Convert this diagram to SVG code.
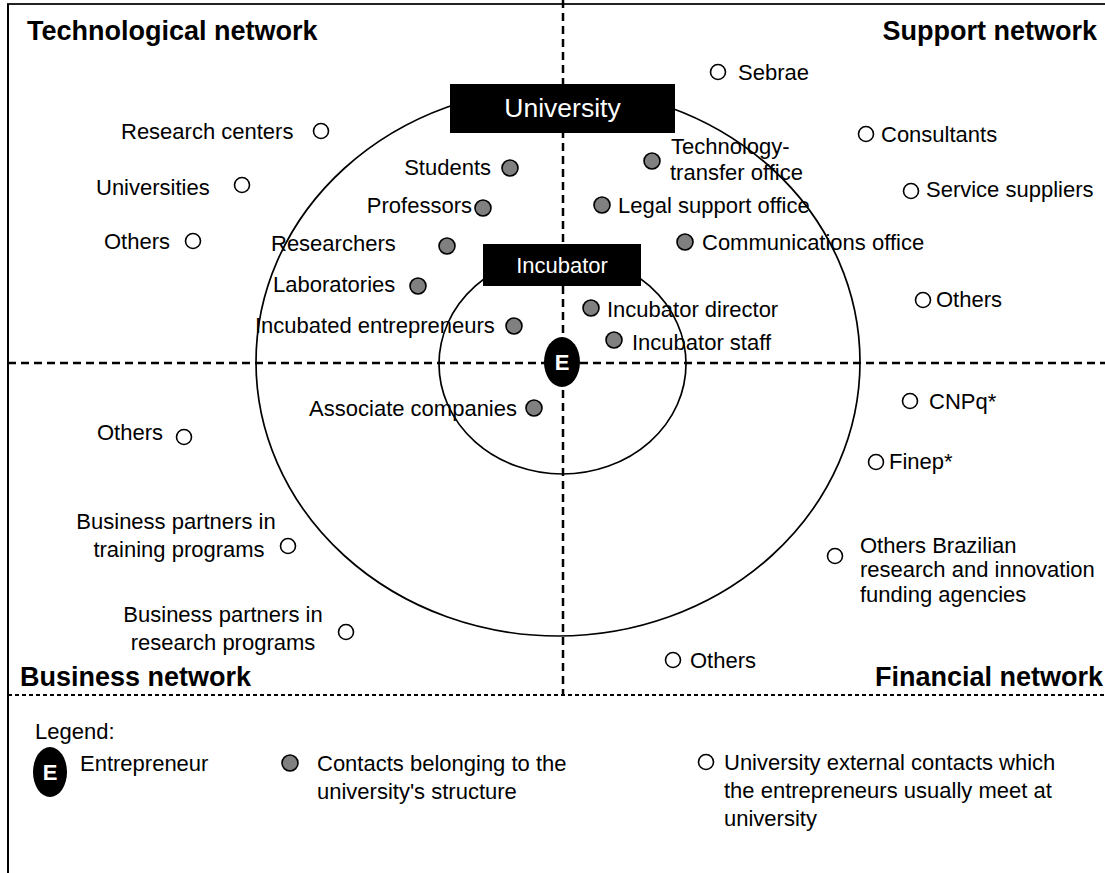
<svg xmlns="http://www.w3.org/2000/svg" width="1105" height="873" viewBox="0 0 1105 873">
  <style>
    text { font-family: "Liberation Sans", Arial, sans-serif; fill: #000; }
    .lbl { font-size: 22px; }
    .ttl { font-size: 27px; font-weight: bold; }
    .box { fill: #000; }
    .boxtxt { fill: #fff; text-anchor: middle; }
    .ring { fill: none; stroke: #000; stroke-width: 1.7; }
    .dash { fill: none; stroke: #000; stroke-width: 2.5; stroke-dasharray: 8 5; }
    .dashfine { fill: none; stroke: #000; stroke-width: 2; stroke-dasharray: 4 3; }
    .ext { fill: #fff; stroke: #000; stroke-width: 1.6; }
    .int { fill: #808080; stroke: #000; stroke-width: 1.6; }
    .ent { fill: #000; }
    .entE { fill: #fff; font-weight: bold; font-size: 22px; text-anchor: middle; }
  </style>

  <rect width="1105" height="873" fill="#fff"/>

  <!-- frame -->
  <g id="frame">
    <line x1="7" y1="4" x2="1105" y2="4" stroke="#222" stroke-width="2"/>
    <line x1="8" y1="4" x2="8" y2="873" stroke="#000" stroke-width="2"/>
  </g>

  <!-- rings around the entrepreneur -->
  <g id="rings">
    <ellipse class="ring" cx="558" cy="362" rx="302" ry="274"/>
    <ellipse class="ring" cx="562.5" cy="364" rx="123.5" ry="110"/>
  </g>

  <!-- quadrant dividers -->
  <g id="connectors">
    <line class="dash" x1="563" y1="0" x2="563" y2="695"/>
    <line class="dash" x1="8" y1="363" x2="1105" y2="363"/>
    <line class="dashfine" x1="8" y1="695" x2="1105" y2="695"/>
  </g>

  <!-- quadrant titles -->
  <g id="titles">
    <text class="ttl" x="27" y="40">Technological network</text>
    <text class="ttl" x="1097" y="40" text-anchor="end">Support network</text>
    <text class="ttl" x="20" y="686">Business network</text>
    <text class="ttl" x="1103" y="686" text-anchor="end">Financial network</text>
  </g>

  <g id="university">
    <rect class="box" x="450" y="84" width="225" height="49"/>
    <text class="boxtxt" x="562.5" y="117" font-size="26.5">University</text>
  </g>

  <g id="incubator">
    <rect class="box" x="483" y="244" width="158" height="42"/>
    <text class="boxtxt" x="562" y="273" font-size="22">Incubator</text>
  </g>

  <g id="entrepreneur">
    <ellipse class="ent" cx="562" cy="362" rx="18" ry="25"/>
    <text class="entE" x="562" y="370">E</text>
  </g>

  <!-- technological network -->
  <g id="research-centers"><circle class="ext" cx="321" cy="131" r="7.5"/><text class="lbl" x="121" y="139">Research centers</text></g>
  <g id="universities"><circle class="ext" cx="242" cy="185" r="7.5"/><text class="lbl" x="96" y="195">Universities</text></g>
  <g id="tech-others"><circle class="ext" cx="193" cy="241" r="7.5"/><text class="lbl" x="104" y="249">Others</text></g>
  <g id="students"><circle class="int" cx="510" cy="168" r="8"/><text class="lbl" x="491" y="175" text-anchor="end">Students</text></g>
  <g id="professors"><circle class="int" cx="483" cy="208" r="8"/><text class="lbl" x="472" y="213" text-anchor="end">Professors</text></g>
  <g id="researchers"><circle class="int" cx="447" cy="246" r="8"/><text class="lbl" x="271" y="251">Researchers</text></g>
  <g id="laboratories"><circle class="int" cx="418" cy="286" r="8"/><text class="lbl" x="273" y="292">Laboratories</text></g>
  <g id="incubated-entrepreneurs"><circle class="int" cx="514" cy="326" r="8"/><text class="lbl" x="255" y="333">Incubated entrepreneurs</text></g>

  <!-- support network -->
  <g id="sebrae"><circle class="ext" cx="718" cy="72" r="7.5"/><text class="lbl" x="738" y="80">Sebrae</text></g>
  <g id="tech-transfer"><circle class="int" cx="652" cy="161" r="8"/><text class="lbl" x="671" y="154">Technology-</text><text class="lbl" x="670" y="180">transfer office</text></g>
  <g id="consultants"><circle class="ext" cx="866" cy="134" r="7.5"/><text class="lbl" x="881" y="142">Consultants</text></g>
  <g id="service-suppliers"><circle class="ext" cx="911" cy="191" r="7.5"/><text class="lbl" x="926" y="197">Service suppliers</text></g>
  <g id="legal-support"><circle class="int" cx="602" cy="205" r="8"/><text class="lbl" x="618" y="213">Legal support office</text></g>
  <g id="communications"><circle class="int" cx="685" cy="242" r="8"/><text class="lbl" x="702" y="250">Communications office</text></g>
  <g id="support-others"><circle class="ext" cx="923" cy="300" r="7.5"/><text class="lbl" x="936" y="307">Others</text></g>
  <g id="incubator-director"><circle class="int" cx="591" cy="308" r="8"/><text class="lbl" x="607" y="317">Incubator director</text></g>
  <g id="incubator-staff"><circle class="int" cx="614" cy="340" r="8"/><text class="lbl" x="632" y="350">Incubator staff</text></g>

  <!-- financial network -->
  <g id="cnpq"><circle class="ext" cx="910" cy="401" r="7.5"/><text class="lbl" x="929" y="409">CNPq*</text></g>
  <g id="finep"><circle class="ext" cx="876" cy="462" r="7.5"/><text class="lbl" x="889" y="469">Finep*</text></g>
  <g id="funding-agencies"><circle class="ext" cx="835" cy="556" r="7.5"/><text class="lbl" x="860" y="553">Others Brazilian</text><text class="lbl" x="860" y="577">research and innovation</text><text class="lbl" x="860" y="602">funding agencies</text></g>
  <g id="financial-others"><circle class="ext" cx="673" cy="660" r="7.5"/><text class="lbl" x="690" y="668">Others</text></g>

  <!-- business network -->
  <g id="associate-companies"><circle class="int" cx="534" cy="408" r="8"/><text class="lbl" x="517" y="416" text-anchor="end">Associate companies</text></g>
  <g id="business-others"><circle class="ext" cx="184" cy="437" r="7.5"/><text class="lbl" x="97" y="440">Others</text></g>
  <g id="training-partners"><circle class="ext" cx="288" cy="546" r="7.5"/><text class="lbl" x="176" y="529" text-anchor="middle">Business partners in</text><text class="lbl" x="179" y="557" text-anchor="middle">training programs</text></g>
  <g id="research-partners"><circle class="ext" cx="346" cy="632" r="7.5"/><text class="lbl" x="223" y="622" text-anchor="middle">Business partners in</text><text class="lbl" x="223" y="650" text-anchor="middle">research programs</text></g>

  <!-- legend -->
  <g id="legend">
    <text class="lbl" x="35" y="739">Legend:</text>
    <ellipse class="ent" cx="50" cy="772" rx="17" ry="25"/>
    <text class="entE" x="50" y="780">E</text>
    <text class="lbl" x="80" y="771">Entrepreneur</text>
    <circle class="int" cx="290" cy="763" r="8"/>
    <text class="lbl" x="317" y="771">Contacts belonging to the</text>
    <text class="lbl" x="317" y="799">university's structure</text>
    <circle class="ext" cx="706" cy="762" r="7.5"/>
    <text class="lbl" x="724" y="770">University external contacts which</text>
    <text class="lbl" x="724" y="798">the entrepreneurs usually meet at</text>
    <text class="lbl" x="724" y="826">university</text>
  </g>
</svg>
